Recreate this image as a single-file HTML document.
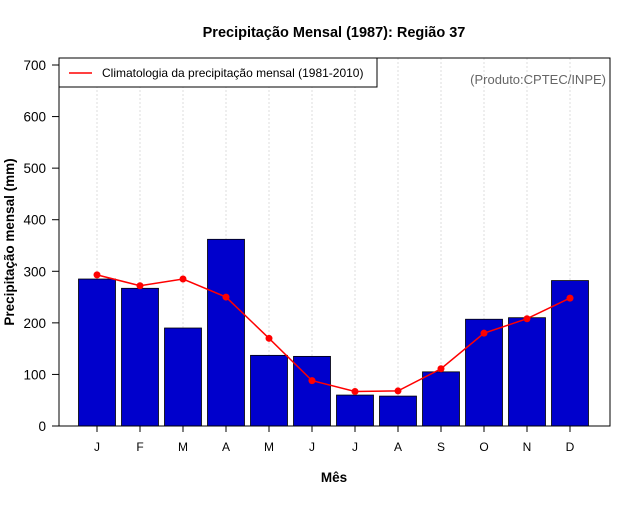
<!DOCTYPE html>
<html><head><meta charset="utf-8"><style>
body{margin:0;background:#fff}
svg text{font-family:"Liberation Sans",sans-serif}
</style></head><body>
<svg id="c" width="640" height="500" xmlns="http://www.w3.org/2000/svg">
<text x="334" y="37" text-anchor="middle" font-size="14.5" font-weight="bold">Precipitação Mensal (1987): Região 37</text>
<text x="334" y="482" text-anchor="middle" font-size="13.5" font-weight="bold">Mês</text>
<text transform="translate(14,242) rotate(-90)" text-anchor="middle" font-size="13.5" font-weight="bold">Precipitação mensal (mm)</text>
<g id="grid"></g><g id="bars"></g><g id="line"></g><g id="axes"></g>
<rect x="59" y="58" width="551" height="368" fill="none" stroke="#000"/>
<g>
<rect x="59" y="58" width="318" height="29" fill="#fff" stroke="#000"/>
<line x1="69" y1="73" x2="92" y2="73" stroke="#f00" stroke-width="1.5"/>
<text x="102" y="77" font-size="12">Climatologia da precipitação mensal (1981-2010)</text>
</g>
<text x="606" y="84" text-anchor="end" font-size="13" fill="#666">(Produto:CPTEC/INPE)</text>
</svg>
<script>
const months=["J","F","M","A","M","J","J","A","S","O","N","D"];
const precip=[285,267,190,362,137,135,60,58,105,207,210,282];
const clim=[293,272,285,250,170,88,67,68,111,180,208,248];
const yTicks=[0,100,200,300,400,500,600,700];
const NS="http://www.w3.org/2000/svg";
const y=v=>426-v*(361/700);
const x=i=>97+i*43;
function mk(t,a,p){const e=document.createElementNS(NS,t);for(const k in a)e.setAttribute(k,a[k]);document.getElementById(p).appendChild(e);return e;}
months.forEach((m,i)=>{
 const g=mk('line',{x1:x(i),x2:x(i),y1:58,y2:426,stroke:'#ddd','stroke-dasharray':'2,2'},'grid');
 
 
 const b=mk('rect',{x:x(i)-18.5,y:y(precip[i]),width:37,height:426-y(precip[i]),fill:'#0000cc',stroke:'#000','stroke-width':0.8},'bars');
 
 
 const tk=mk('line',{x1:x(i),x2:x(i),y1:426,y2:432,stroke:'#000'},'axes');
 
 
 const t=mk('text',{x:x(i),y:451,'text-anchor':'middle','font-size':12},'axes');
 t.textContent=m;
 
 
});
const pl=mk('polyline',{points:clim.map((v,i)=>x(i)+','+y(v)).join(' '),fill:'none',stroke:'#f00','stroke-width':1.5},'line');


clim.forEach((v,i)=>{
 const c=mk('circle',{cx:x(i),cy:y(v),r:3.5,fill:'#f00'},'line');
 
 
});
yTicks.forEach(v=>{
 const tk=mk('line',{x1:52,x2:59,y1:y(v),y2:y(v),stroke:'#000'},'axes');
 
 
 const t=mk('text',{x:46,y:y(v)+5,'text-anchor':'end','font-size':13.5},'axes');
 t.textContent=v;
 
 
});
</script>
</body></html>
